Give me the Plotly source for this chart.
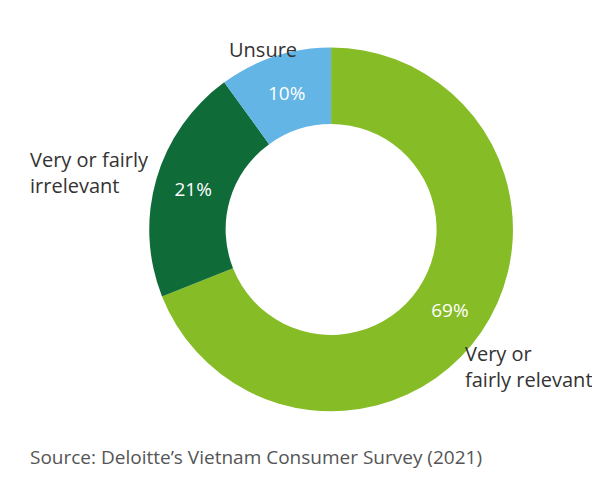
import plotly.graph_objects as go

labels = ["Very or fairly relevant", "Very or fairly irrelevant", "Unsure"]
values = [69, 21, 10]
colors = ["#86BC25", "#0F6B38", "#62B5E5"]

fig = go.Figure(go.Pie(
    labels=labels, values=values, hole=0.58, sort=False, direction="clockwise",
    rotation=0, marker=dict(colors=colors, line=dict(color="white", width=0)),
    texttemplate="%{value}%", textposition="inside", insidetextorientation="horizontal",
    textfont=dict(color="white", size=19, family="Open Sans"),
    domain=dict(x=[0.235, 0.842], y=[0.165, 0.918]), showlegend=False, hoverinfo="skip"))

f = dict(family="Open Sans", size=20, color="#333333")
fig.add_annotation(x=255/600, y=1-26/483, text="Unsure", showarrow=False, xref="paper", yref="paper", xanchor="center", font=f)
fig.add_annotation(x=20/600, y=1-164/483, text="Very or fairly<br>irrelevant", showarrow=False, xref="paper", yref="paper", xanchor="left", align="left", font=f)
fig.add_annotation(x=455/600, y=1-387/483, text="Very or<br>fairly relevant", showarrow=False, xref="paper", yref="paper", xanchor="left", align="left", font=f)
fig.add_annotation(x=20/600, y=1-464/483, text="Source: Deloitte’s Vietnam Consumer Survey (2021)", showarrow=False, xref="paper", yref="paper", xanchor="left", font=dict(family="Open Sans", size=19, color="#555555"))

fig.update_layout(width=600, height=483, margin=dict(l=0, r=0, t=0, b=0), paper_bgcolor="white")
fig.write_html("out.html")
